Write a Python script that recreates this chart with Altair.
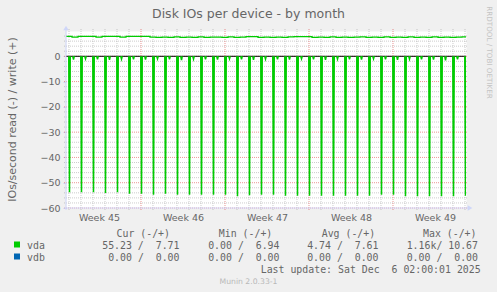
import altair as alt
import pandas as pd

# ---------------- data ----------------
# x axis: hours since the left edge of the graph (Sun 2 Nov 2025 ~18:00 -> Sat 6 Dec 2025 02:00)
x_end = 800
week_numbers = [45, 46, 47, 48, 49]
week_centers = [66, 234, 402, 570, 738]      # middle of each Sunday..Sunday week (hours)
week_starts = [150, 318, 486, 654]           # Sunday 00:00 (major grid)
first_midnight = 6                           # Mon 3 Nov 00:00 (hours)

# vda read (shown negative): one deep spike just after every midnight
spike_depth = [-53.8, -53.8, -53.8, -54.1, -53.8, -54.4, -54.4, -54.8, -54.4, -54.8,
               -54.8, -54.8, -54.8, -54.8, -55.4, -55.0, -54.8, -54.8, -55.2, -55.2,
               -55.2, -55.2, -55.2, -55.2, -55.2, -55.2, -54.8, -54.8, -55.4, -55.4,
               -55.4, -55.4, -55.4, -55.2]
# small read dips a few hours later each day
dip_depth = [-1.3, -1.0, -1.2, -1.4, -1.1, -1.2, -1.3, -1.0, -1.2, -1.5, -1.1,
             -1.2, -1.3, -1.0, -1.2, -1.4, -1.1, -1.2, -1.3, -1.0, -1.2, -1.4,
             -1.1, -1.2, -1.3, -1.0, -1.2, -1.4, -1.1, -1.2, -1.3, -1.6, -1.2]
# vda write (positive), one value every 12 hours
write_vals = [7.9, 7.6, 7.9, 7.9, 7.9, 7.6, 7.9, 7.9, 7.9, 7.6,
              7.9, 7.9, 7.9, 7.9, 7.6, 7.5, 7.6, 7.5, 7.7, 7.5,
              7.6, 7.5, 7.7, 7.5, 7.6, 7.6, 7.5, 7.7, 7.5, 7.6,
              7.8, 7.8, 7.5, 7.6, 7.5, 7.6, 7.5, 7.7, 7.8, 7.8,
              7.8, 7.5, 7.6, 7.5, 7.7, 7.5, 7.6, 7.5, 7.6, 7.7,
              7.5, 7.6, 7.5, 7.7, 7.5, 7.6, 7.5, 7.7, 7.5, 7.6,
              7.5, 7.7, 7.5, 7.6, 7.5, 7.6, 7.7]

y_labels = [0, -10, -20, -30, -40, -50, -60]

# legend
devices = ["vda", "vdb"]
dev_colors = ["#00CC00", "#0066B3"]
cur_vals = [(55.23, 7.71), (0.0, 0.0)]
min_vals = [(0.0, 6.94), (0.0, 0.0)]
avg_vals = [(4.74, 7.61), (0.0, 0.0)]
max_vals = [(1160.0, 10.67), (0.0, 0.0)]
headers = ["Cur (-/+)", "Min (-/+)", "Avg (-/+)", "Max (-/+)"]
last_update = "Last update: Sat Dec  6 02:00:01 2025"
title_text = "Disk IOs per device - by month"
y_title = "IOs/second read (-) / write (+)"
watermark = "RRDTOOL / TOBI OETIKER"
version_text = "Munin 2.0.33-1"

# ---------------- styling ----------------
W, H = 400, 177
FONT = "DejaVu Sans"
MONO = "DejaVu Sans Mono"
TXT = "#666666"
AXIS_C = "#CFD6F8"
GREEN = "#00CC00"

xs = alt.Scale(domain=[0, x_end], nice=False, zero=False)
ys = alt.Scale(domain=[-60, 10], nice=False, zero=False)
one = pd.DataFrame({"a": [0]})

label_expr = " : ".join(
    f"datum.value == {c} ? 'Week {w}'" for c, w in zip(week_centers, week_numbers)) + " : ''"
xaxis = alt.Axis(values=week_centers, labelExpr=label_expr, tickSize=0, domain=False,
                 grid=False, labelPadding=4, labelFont=FONT, labelFontSize=9.5,
                 labelColor=TXT, title=None, labelFlush=False, labelOverlap=False)
yaxis = alt.Axis(values=y_labels, tickSize=3, tickColor=AXIS_C, domain=False, grid=False,
                 labelPadding=3, labelFont=FONT, labelFontSize=9.5, labelColor=TXT,
                 title=None, labelFlush=False, labelOverlap=False)


def X(f="t"):
    return alt.X(f"{f}:Q", scale=xs, axis=xaxis)


def Y(f="v"):
    return alt.Y(f"{f}:Q", scale=ys, axis=yaxis)


def nb(s):
    return s.replace(" ", "\u00a0")


def fmt(v):
    if abs(v) >= 1000:
        return f"{v / 1000:6.2f}k"
    return f"{v:6.2f} "


def cell(pair):
    return nb((fmt(pair[0]) + "/" + fmt(pair[1])).strip())


layers = []

# grid
y_minor = [v for v in range(-58, 10, 2) if v % 10 != 0]
y_major = list(range(-60, 10, 10))
layers.append(alt.Chart(pd.DataFrame({"v": y_minor})).mark_rule(
    color="#8f8f8f", opacity=0.45, strokeDash=[1, 1]).encode(
    y=Y(), x=alt.value(-2), x2=alt.value(W + 2)))
layers.append(alt.Chart(pd.DataFrame({"v": y_major})).mark_rule(
    color="#de4f4f", opacity=0.6, strokeDash=[1, 1]).encode(
    y=Y(), x=alt.value(-2), x2=alt.value(W + 2)))
days = [first_midnight + 24 * i for i in range(34)]
day_minor = [d for d in days if d not in week_starts and d <= x_end]
layers.append(alt.Chart(pd.DataFrame({"t": day_minor})).mark_rule(
    color="#8f8f8f", opacity=0.45, strokeDash=[1, 1]).encode(
    x=X(), y=alt.value(-2), y2=alt.value(H + 2)))
layers.append(alt.Chart(pd.DataFrame({"t": week_starts})).mark_rule(
    color="#de4f4f", opacity=0.6, strokeDash=[1, 1]).encode(
    x=X(), y=alt.value(-2), y2=alt.value(H + 2)))

# zero line
layers.append(alt.Chart(pd.DataFrame({"v": [0]})).mark_rule(color="#000000").encode(
    y=Y(), x=alt.value(0), x2=alt.value(W)))

# write line
wt = [12 * i for i in range(len(write_vals))] + [x_end]
wv = write_vals + [write_vals[-1]]
layers.append(alt.Chart(pd.DataFrame({"t": wt, "v": wv})).mark_line(
    color=GREEN, strokeWidth=1.3, interpolate="step-after", clip=True).encode(
    x=X(), y=Y()))

# read spikes (narrow V shapes of one 2-hour sample)
rows = []
for k, d in enumerate(spike_depth):
    c = first_midnight + 1 + 24 * k
    rows += [{"id": f"s{k}", "t": c - 1.5, "v": 0}, {"id": f"s{k}", "t": c, "v": d},
             {"id": f"s{k}", "t": c + 1.5, "v": 0}]
for k, d in enumerate(dip_depth):
    c = first_midnight + 9 + 24 * k
    rows += [{"id": f"d{k}", "t": c - 1.5, "v": 0}, {"id": f"d{k}", "t": c, "v": d},
             {"id": f"d{k}", "t": c + 1.5, "v": 0}]
layers.append(alt.Chart(pd.DataFrame(rows)).mark_line(
    color=GREEN, strokeWidth=1.5, clip=True).encode(
    x=X(), y=Y(), detail="id:N"))

# axis lines and arrows
layers.append(alt.Chart(one).mark_rule(color=AXIS_C).encode(
    x=alt.value(0), y=alt.value(-3), y2=alt.value(H + 2)))
layers.append(alt.Chart(one).mark_rule(color=AXIS_C).encode(
    y=alt.value(H), x=alt.value(-2), x2=alt.value(W + 3)))
layers.append(alt.Chart(one).mark_point(shape="triangle-up", filled=True, size=30,
                                        color=AXIS_C, opacity=1).encode(
    x=alt.value(0), y=alt.value(-3)))
layers.append(alt.Chart(one).mark_point(shape="triangle-right", filled=True, size=30,
                                        color=AXIS_C, opacity=1).encode(
    x=alt.value(W + 4), y=alt.value(H)))


def text(s, x, y, size=9.9, font=MONO, align="left", color=TXT, angle=0, baseline="alphabetic"):
    kw = dict(font=font, fontSize=size, align=align, color=color, baseline=baseline)
    if angle:
        kw["angle"] = angle
    return alt.Chart(one).mark_text(**kw).encode(
        x=alt.value(x), y=alt.value(y), text=alt.value(s))


# titles
layers.append(text(title_text, 182.5, -12.7, size=12.5, font=FONT, align="center"))
layers.append(text(y_title, -50.5, 88.5, size=11, font=FONT, align="center", angle=270))
layers.append(text(watermark, 422.5, 21.5, size=7.2, font=FONT, align="center",
                   color="#c4c4c4", angle=90, baseline="middle"))
layers.append(text(version_text, 182.5, 253, size=7.7, font=FONT, align="center",
                   color="#b8b8b8"))

# legend
header_x = [50.5, 152.8, 255.7, 357.0]
value_x = [113.5, 213.5, 312.5, 412.0]
row_y = [218, 230]
for h, x in zip(headers, header_x):
    layers.append(text(nb(h), x, 206))
for i, dev in enumerate(devices):
    layers.append(alt.Chart(one).mark_square(size=36, color=dev_colors[i], opacity=1).encode(
        x=alt.value(-49), y=alt.value(row_y[i] - 4.5)))
    layers.append(text(dev, -39, row_y[i]))
    for vals, x in zip([cur_vals, min_vals, avg_vals, max_vals], value_x):
        layers.append(text(cell(vals[i]), x, row_y[i], align="right"))
layers.append(text(nb(last_update), 194.7, 242))

chart = alt.layer(*layers).properties(
    width=W, height=H,
    padding={"left": 66, "top": 31, "right": 31, "bottom": 84},
    autosize=alt.AutoSizeParams(type="none"),
    background="#F0F0F0",
).configure_view(fill="white", strokeOpacity=0)

chart.save("out.html", embed_options={"renderer": "svg", "actions": False})
